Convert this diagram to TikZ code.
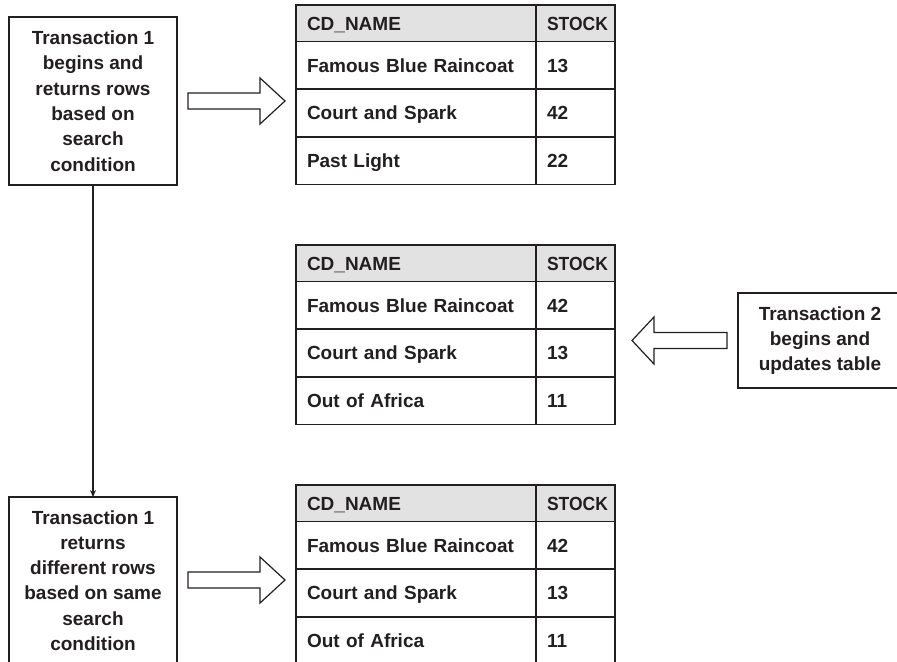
\documentclass[tikz,border=0pt]{standalone}
\usepackage{fontspec}
\setmainfont{Liberation Sans}
\usetikzlibrary{arrows.meta}
\definecolor{ink}{HTML}{231F20}
\definecolor{hdrfill}{HTML}{E2E2E2}
\tikzset{
  txt/.style={font=\fontsize{19bp}{25.3bp}\selectfont\bfseries, text=ink},
  tbox/.style={txt, draw=ink, line width=1.3bp, align=center, inner sep=0pt, outer sep=0pt, anchor=north west},
  cellbase/.style={txt, draw=ink, line width=1.5bp, inner xsep=11bp, inner ysep=0pt, outer sep=0pt, align=left, anchor=north west, text height=13.6bp, text depth=0bp},
  namecol/.style={text width=218bp},
  stockcol/.style={text width=57bp},
  hdr/.style={cellbase, fill=hdrfill, minimum height=36.5bp},
  cell/.style={cellbase, fill=white, minimum height=47.7bp},
  blockarrow/.style={draw=ink, fill=white, line width=1.2bp, line join=miter},
  flow/.style={draw=ink, line width=1.2bp, -{Stealth[length=7bp,width=6bp]}}
}
\newcommand\cdtable[6]{%
  \node[hdr,namecol] (#1h1) at (296,#2) {CD\_NAME};
  \node[hdr,stockcol] (#1h2) at (#1h1.north east) {\scalebox{0.92}[1]{STOCK}};
  \node[cell,namecol] (#1a1) at (#1h1.south west) {Famous Blue Raincoat};
  \node[cell,stockcol] (#1b1) at (#1a1.north east) {#4};
  \node[cell,namecol] (#1a2) at (#1a1.south west) {Court and Spark};
  \node[cell,stockcol] (#1b2) at (#1a2.north east) {#5};
  \node[cell,namecol] (#1a3) at (#1a2.south west) {#3};
  \node[cell,stockcol] (#1b3) at (#1a3.north east) {#6};
}
\begin{document}
\begin{tikzpicture}[x=1bp,y=-1bp]
\clip (0,0) rectangle (897,662);
\fill[white] (0,0) rectangle (897,662);

% left and right boxes
\node[tbox, minimum width=168bp, minimum height=168bp] (t1) at (9,17)
  {Transaction 1\\begins and\\returns rows\\based on\\search\\condition};
\node[tbox, minimum width=168bp, minimum height=167bp] (t3) at (9,497)
  {Transaction 1\\returns\\different rows\\based on same\\search\\condition};
\node[tbox, minimum width=164bp, minimum height=95bp] (t2) at (738,293)
  {Transaction 2\\begins and\\updates table};

% tables
\cdtable{A}{5}{Past Light}{13}{42}{22}
\cdtable{B}{245}{Out of Africa}{42}{13}{11}
\cdtable{C}{485}{Out of Africa}{42}{13}{11}

% flow line
\draw[flow] (t1.south) -- (t3.north);

% block arrows
\draw[blockarrow] (188,93) -- (260,93) -- (260,78) -- (285,101) -- (260,124) -- (260,109) -- (188,109) -- cycle;
\draw[blockarrow] (727,332.5) -- (654,332.5) -- (654,317) -- (632,340.5) -- (654,364) -- (654,348.5) -- (727,348.5) -- cycle;
\draw[blockarrow] (188,572) -- (260,572) -- (260,557) -- (285,580) -- (260,603) -- (260,588) -- (188,588) -- cycle;
\end{tikzpicture}
\end{document}
